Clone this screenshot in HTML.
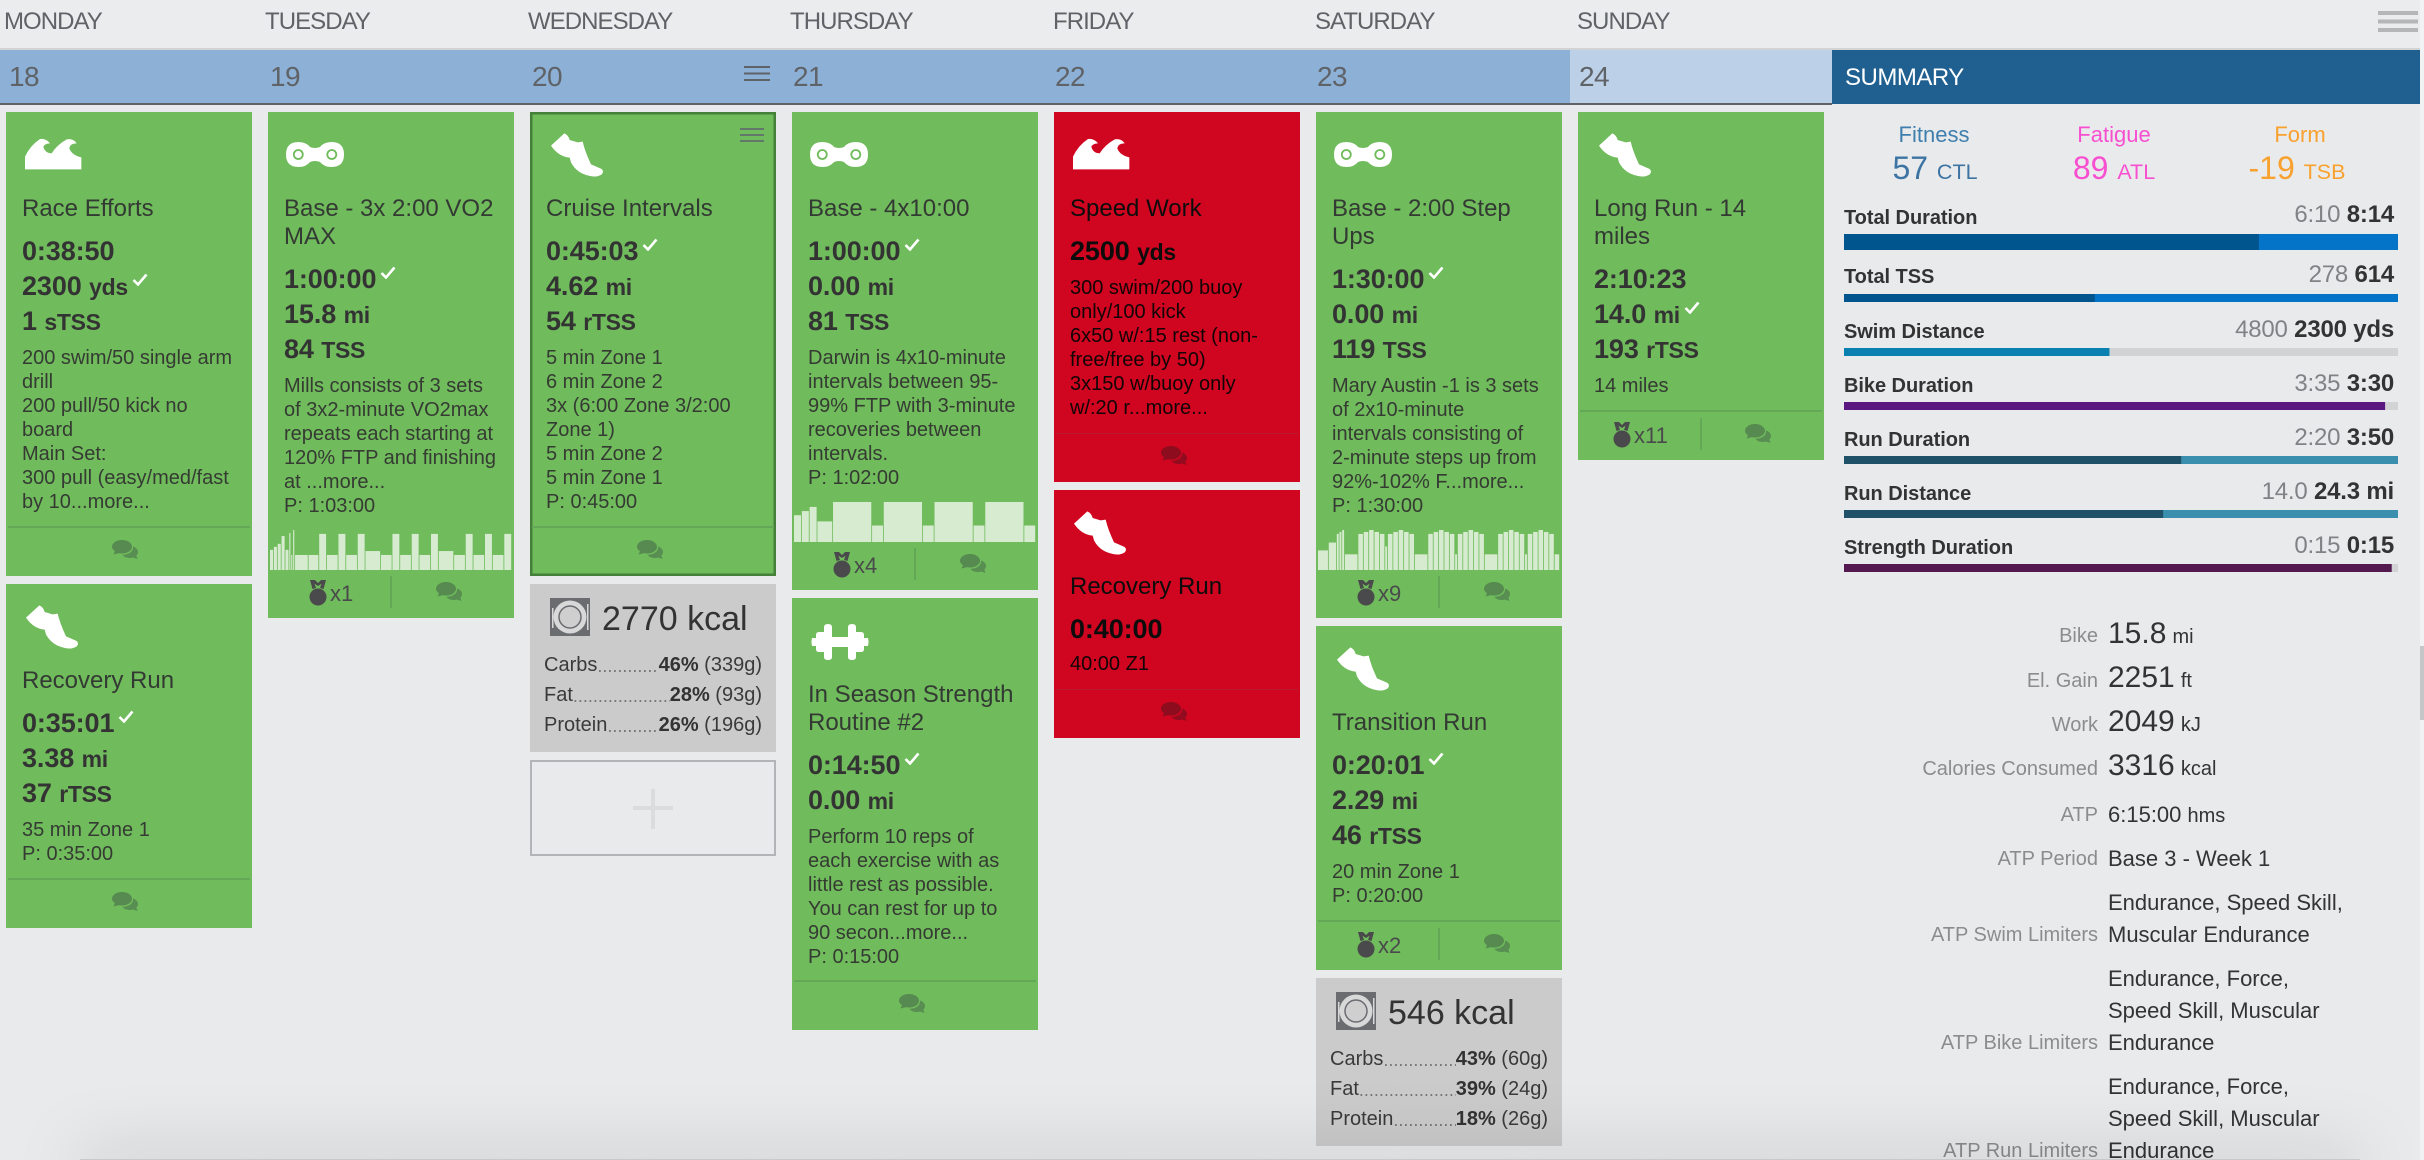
<!DOCTYPE html>
<html lang="en">
<head>
<meta charset="utf-8">
<title>Training Week Calendar</title>
<style>
html,body{margin:0;padding:0;width:2424px;height:1160px;overflow:hidden;background:#e9eaec;font-family:"Liberation Sans",Arial,sans-serif;color:#333}
#page{position:relative;width:2424px;height:1160px;overflow:hidden}
.abs{position:absolute}
.wk{position:absolute;top:7px;font-size:24px;line-height:30px;letter-spacing:-.95px;color:#5f6368;white-space:nowrap}
.dt{position:absolute;top:59px;font-size:28px;line-height:36px;letter-spacing:-.6px;color:#5f6368}
.card{position:absolute;width:246px;box-sizing:border-box;padding:83px 0 0 16px;overflow:hidden}
.green{background:#70bb5c;color:#333}
.red{background:#d0051f;color:#0c0c0c}
.sel{box-shadow:inset 0 0 0 2.5px #44803a}
.title{font-size:24px;line-height:28px;letter-spacing:0;white-space:nowrap;color:#333a33}
.red .title{color:#0c0c0c}
.mets{margin-top:11px}
.m{height:35px;line-height:35px;font-size:27px;font-weight:bold;white-space:nowrap;letter-spacing:-.1px}
.u{font-size:23px;letter-spacing:-.3px}
.ck{width:16px;height:13px;margin-left:4px;position:relative;top:-9px}
.desc{margin-top:7px;font-size:20px;line-height:24px;white-space:nowrap;letter-spacing:0;color:#353b33}
.red .desc{color:#120506}
.sep{position:absolute;left:2px;right:2px;bottom:48px;height:2px;background:#64a857}
.red .sep{background:#b91a2e;height:1px}
.ic{position:absolute;left:0;top:0}
.cm{position:absolute;bottom:16px;width:26px;height:20px;color:#568a50}
.red .cm{color:#8d0c1e}
.md{position:absolute;bottom:12px;width:18px;height:26px;color:#4a4a4c}
.mx{position:absolute;bottom:12px;font-size:22px;line-height:24px;color:#4a4a4c}
.dv{position:absolute;left:122px;bottom:10px;width:2px;height:32px;background:#64a857}
.mini{position:absolute;left:2px;bottom:48px}
.nut{position:absolute;width:246px;background:#cbcbcb}
.kc{position:absolute;font-size:34px;line-height:40px;color:#333;white-space:nowrap}
.nr{position:absolute;left:14px;width:218px;display:flex;font-size:20px;line-height:26px;white-space:nowrap;color:#3a3a3a}
.nr i{flex:1;overflow:hidden;font-style:normal;font-size:18px;color:#777;padding-top:1px;letter-spacing:0}
.nr b{color:#333}
.fh{position:absolute;font-size:22px;line-height:28px;text-align:center;width:200px}
.fv{position:absolute;font-size:32px;line-height:40px;text-align:center;width:240px;white-space:nowrap}
.fv span{font-size:21.500px}
.sl{position:absolute;left:1844px;font-size:20px;line-height:28px;font-weight:bold;color:#333;white-space:nowrap;letter-spacing:-.05px}
.sv{position:absolute;left:1900px;width:494px;text-align:right;font-size:24px;line-height:28px;color:#808285;white-space:nowrap;letter-spacing:-.2px}
.sv b{color:#333}
.dl{position:absolute;left:1700px;width:398px;text-align:right;font-size:20px;line-height:32px;color:#8a8c8e;white-space:nowrap}
.dn{position:absolute;left:2108px;font-size:22px;line-height:32px;color:#333;white-space:nowrap}
.big{font-size:30px}
.un{font-size:20px}
</style>
</head>
<body>
<svg width="0" height="0" style="position:absolute">
<defs>
<symbol id="wave" viewBox="0 0 360 180"><path fill="#fff" d="M45 133L45 95Q60 62 90 42Q108 40 120 55Q105 55 100 65Q105 85 125 85Q140 60 170 43Q190 40 200 55Q180 55 178 70Q185 90 214 97L214 133Z"/></symbol>
<symbol id="shoe" viewBox="0 0 360 180"><path fill="#fff" d="M48 62L88 25Q100 30 104 45L128 52L143 50Q150 80 168 118Q185 125 200 132Q208 140 200 148Q185 158 165 153Q125 145 108 112L104 98Q70 95 48 62Z"/></symbol>
<symbol id="chain" viewBox="0 0 58 25"><path fill="#fff" d="M12.5 0Q20 0 24 5Q29 7 34 5Q38 0 45.5 0Q58 0 58 12.500Q58 25 45.500 25Q38 25 34 20Q29 18 24 20Q20 25 12.500 25Q0 25 0 12.500Q0 0 12.500 0Z"/><circle cx="12.300" cy="12.500" r="4.500" fill="#fff" stroke="#70bb5c" stroke-width="1.800"/><circle cx="45.800" cy="12.500" r="4.500" fill="#fff" stroke="#70bb5c" stroke-width="1.800"/></symbol>
<symbol id="dumbbell" viewBox="0 0 58 36"><path fill="#fff" d="M13 3Q13 0 17 0Q21 0 21 3L21 13L37 13L37 3Q37 0 41 0Q45 0 45 3L45 8L50 8Q53 8 53 11L53 14L57 14Q58 18 57 22L53 22L53 25Q53 28 50 28L45 28L45 33Q45 36 41 36Q37 36 37 33L37 23L21 23L21 33Q21 36 17 36Q13 36 13 33L13 28L8 28Q5 28 5 25L5 22L1 22Q0 18 1 14L5 14L5 11Q5 8 8 8L13 8Z"/></symbol>
<symbol id="comment" viewBox="0 0 26 20"><path fill="currentColor" d="M10 0C15.500 0 20 3 20 6.800C20 10.600 15.500 13.500 10 13.500C9 13.500 8 13.400 7 13.100L1.500 14.500L3 11.200C1.200 10 0 8.500 0 6.800C0 3 4.500 0 10 0Z"/><path fill="currentColor" opacity=".92" d="M21 6.500C24 7.500 26 9.500 26 12C26 13.500 25.300 14.700 24.300 15.600L25.500 19L21 17.500C20 17.800 19 18 18 18C14.500 18 11.500 16.500 10.500 14.700C16.500 15 21.800 11.500 21 6.500Z"/></symbol>
<symbol id="medal" viewBox="0 0 18 26"><circle cx="9" cy="17" r="8.500" fill="currentColor"/><path fill="currentColor" d="M1 0L6 0L9 3L12 0L17 0L14.500 9L11 8L12.500 3.800L9 6L5.500 3.800L7 8L3.500 9Z"/></symbol>
<symbol id="plate" viewBox="0 0 40 38"><rect width="40" height="38" fill="#6a6c70"/><circle cx="20" cy="19" r="16.500" fill="#d8d8d8"/><circle cx="20" cy="19" r="11" fill="#cfcfcf" stroke="#6a6c70" stroke-width="1.500"/><rect x="2" y="10" width="1.500" height="20" fill="#d8d8d8"/><rect x="37" y="6" width="1.500" height="26" fill="#d8d8d8"/></symbol>
<symbol id="check" viewBox="0 0 16 13"><path d="M1.500 7L6 11.500L14.500 1.500" fill="none" stroke="#fff" stroke-width="2.600"/></symbol>
</defs>
</svg>

<div id="page">
  <div class="abs" style="left:0;top:0;width:2424px;height:48px;background:#ebecee"></div>
  <div class="abs" style="left:0;top:48px;width:2424px;height:2px;background:#d2d3d5"></div>
  <div class="wk" style="left:4px">MONDAY</div>
  <div class="wk" style="left:265px">TUESDAY</div>
  <div class="wk" style="left:528px">WEDNESDAY</div>
  <div class="wk" style="left:790px">THURSDAY</div>
  <div class="wk" style="left:1053px">FRIDAY</div>
  <div class="wk" style="left:1315px">SATURDAY</div>
  <div class="wk" style="left:1577px">SUNDAY</div>
  <div class="abs" style="left:2378px;top:11px;width:40px;height:21px;background:linear-gradient(#b5b6b8 0 4px,transparent 4px 8.500px,#b5b6b8 8.500px 12.500px,transparent 12.500px 17px,#b5b6b8 17px 21px)"></div>

  <div class="abs" style="left:0;top:50px;width:1570px;height:53px;background:#8cb0d6"></div>
  <div class="abs" style="left:1570px;top:50px;width:262px;height:53px;background:#bcd1e7"></div>
  <div class="abs" style="left:0;top:102.500px;width:1832px;height:2px;background:#5f6368"></div>
  <div class="dt" style="left:9px">18</div>
  <div class="dt" style="left:270px">19</div>
  <div class="dt" style="left:532px">20</div>
  <div class="dt" style="left:793px">21</div>
  <div class="dt" style="left:1055px">22</div>
  <div class="dt" style="left:1317px">23</div>
  <div class="dt" style="left:1579px">24</div>
  <div class="abs" style="left:744px;top:66px;width:26px;height:15px;background:linear-gradient(#5f6368 0 2px,transparent 2px 6.500px,#5f6368 6.500px 8.500px,transparent 8.500px 13px,#5f6368 13px 15px)"></div>

  <div class="abs" style="left:1832px;top:50px;width:588px;height:54px;background:#1f6090"></div>
  <div class="abs" style="left:1845px;top:63px;font-size:24px;line-height:30px;letter-spacing:-.5px;color:#fff">SUMMARY</div>

  <!-- MONDAY -->
  <div class="card green" style="left:6px;top:112px;height:464px">
    <svg class="ic" style="left:4px;top:13px" width="120" height="60"><use href="#wave"/></svg>
    <div class="title">Race Efforts</div>
    <div class="mets">
      <div class="m">0:38:50</div>
      <div class="m">2300 <span class="u">yds</span><svg class="ck"><use href="#check"/></svg></div>
      <div class="m">1 <span class="u">sTSS</span></div>
    </div>
    <div class="desc">200 swim/50 single arm<br>drill<br>200 pull/50 kick no<br>board<br>Main Set:<br>300 pull (easy/med/fast<br>by 10...more...</div>
    <div class="sep"></div>
    <svg class="cm" style="left:106px"><use href="#comment"/></svg>
  </div>
  <div class="card green" style="left:6px;top:584px;height:344px">
    <svg class="ic" style="left:4px;top:13px" width="120" height="60"><use href="#shoe"/></svg>
    <div class="title">Recovery Run</div>
    <div class="mets">
      <div class="m">0:35:01<svg class="ck"><use href="#check"/></svg></div>
      <div class="m">3.38 <span class="u">mi</span></div>
      <div class="m">37 <span class="u">rTSS</span></div>
    </div>
    <div class="desc">35 min Zone 1<br>P: 0:35:00</div>
    <div class="sep"></div>
    <svg class="cm" style="left:106px"><use href="#comment"/></svg>
  </div>

  <!-- TUESDAY -->
  <div class="card green" style="left:268px;top:112px;height:506px">
    <svg class="ic" style="left:17.700px;top:29.600px" width="58" height="25"><use href="#chain"/></svg>
    <div class="title">Base - 3x 2:00 VO2<br>MAX</div>
    <div class="mets">
      <div class="m">1:00:00<svg class="ck"><use href="#check"/></svg></div>
      <div class="m">15.8 <span class="u">mi</span></div>
      <div class="m">84 <span class="u">TSS</span></div>
    </div>
    <div class="desc">Mills consists of 3 sets<br>of 3x2-minute VO2max<br>repeats each starting at<br>120% FTP and finishing<br>at ...more...<br>P: 1:03:00</div>
    <svg id="chart-tue" class="mini" width="242" height="42"></svg>
    <svg class="md" style="left:41px"><use href="#medal"/></svg>
    <div class="mx" style="left:62px">x1</div>
    <div class="dv"></div>
    <svg class="cm" style="left:168px"><use href="#comment"/></svg>
  </div>

  <!-- WEDNESDAY -->
  <div class="card green sel" style="left:530px;top:112px;height:464px">
    <svg class="ic" style="left:5px;top:13px" width="120" height="60"><use href="#shoe"/></svg>
    <div class="abs" style="left:210px;top:16px;width:24px;height:14px;background:linear-gradient(#63786a 0 2px,transparent 2px 6px,#63786a 6px 8px,transparent 8px 12px,#63786a 12px 14px)"></div>
    <div class="title">Cruise Intervals</div>
    <div class="mets">
      <div class="m">0:45:03<svg class="ck"><use href="#check"/></svg></div>
      <div class="m">4.62 <span class="u">mi</span></div>
      <div class="m">54 <span class="u">rTSS</span></div>
    </div>
    <div class="desc">5 min Zone 1<br>6 min Zone 2<br>3x (6:00 Zone 3/2:00<br>Zone 1)<br>5 min Zone 2<br>5 min Zone 1<br>P: 0:45:00</div>
    <div class="sep"></div>
    <svg class="cm" style="left:107px"><use href="#comment"/></svg>
  </div>
  <div class="nut" style="left:530px;top:584px;height:168px">
    <svg class="abs" style="left:20px;top:14px" width="40" height="38"><use href="#plate"/></svg>
    <div class="kc" style="left:72px;top:15px">2770 kcal</div>
    <div class="nr" style="top:68px"><span>Carbs</span><i>.......................</i><span><b>46%</b> (339g)</span></div>
    <div class="nr" style="top:98px"><span>Fat</span><i>.......................</i><span><b>28%</b> (93g)</span></div>
    <div class="nr" style="top:128px"><span>Protein</span><i>.......................</i><span><b>26%</b> (196g)</span></div>
  </div>
  <div class="abs" style="left:530px;top:760px;width:246px;height:96px;box-sizing:border-box;border:2px solid #b4b4b8">
    <div class="abs" style="left:101px;top:44px;width:40px;height:4px;background:#dcdcde"></div>
    <div class="abs" style="left:119px;top:26.500px;width:4px;height:40px;background:#dcdcde"></div>
  </div>

  <!-- THURSDAY -->
  <div class="card green" style="left:792px;top:112px;height:478px">
    <svg class="ic" style="left:17.700px;top:29.600px" width="58" height="25"><use href="#chain"/></svg>
    <div class="title">Base - 4x10:00</div>
    <div class="mets">
      <div class="m">1:00:00<svg class="ck"><use href="#check"/></svg></div>
      <div class="m">0.00 <span class="u">mi</span></div>
      <div class="m">81 <span class="u">TSS</span></div>
    </div>
    <div class="desc">Darwin is 4x10-minute<br>intervals between 95-<br>99% FTP with 3-minute<br>recoveries between<br>intervals.<br>P: 1:02:00</div>
    <svg id="chart-thu" class="mini" width="242" height="42"></svg>
    <svg class="md" style="left:41px"><use href="#medal"/></svg>
    <div class="mx" style="left:62px">x4</div>
    <div class="dv"></div>
    <svg class="cm" style="left:168px"><use href="#comment"/></svg>
  </div>
  <div class="card green" style="left:792px;top:598px;height:432px">
    <svg class="ic" style="left:18.600px;top:26px" width="58" height="36"><use href="#dumbbell"/></svg>
    <div class="title">In Season Strength<br>Routine #2</div>
    <div class="mets">
      <div class="m">0:14:50<svg class="ck"><use href="#check"/></svg></div>
      <div class="m">0.00 <span class="u">mi</span></div>
    </div>
    <div class="desc">Perform 10 reps of<br>each exercise with as<br>little rest as possible.<br>You can rest for up to<br>90 secon...more...<br>P: 0:15:00</div>
    <div class="sep"></div>
    <svg class="cm" style="left:107px"><use href="#comment"/></svg>
  </div>

  <!-- FRIDAY -->
  <div class="card red" style="left:1054px;top:112px;height:370px">
    <svg class="ic" style="left:4px;top:13px" width="120" height="60"><use href="#wave"/></svg>
    <div class="title">Speed Work</div>
    <div class="mets">
      <div class="m">2500 <span class="u">yds</span></div>
    </div>
    <div class="desc">300 swim/200 buoy<br>only/100 kick<br>6x50 w/:15 rest (non-<br>free/free by 50)<br>3x150 w/buoy only<br>w/:20 r...more...</div>
    <div class="sep"></div>
    <svg class="cm" style="left:107px"><use href="#comment"/></svg>
  </div>
  <div class="card red" style="left:1054px;top:490px;height:248px">
    <svg class="ic" style="left:4px;top:13px" width="120" height="60"><use href="#shoe"/></svg>
    <div class="title">Recovery Run</div>
    <div class="mets">
      <div class="m">0:40:00</div>
    </div>
    <div class="desc" style="margin-top:5px">40:00 Z1</div>
    <div class="sep"></div>
    <svg class="cm" style="left:107px"><use href="#comment"/></svg>
  </div>

  <!-- SATURDAY -->
  <div class="card green" style="left:1316px;top:112px;height:506px">
    <svg class="ic" style="left:17.700px;top:29.600px" width="58" height="25"><use href="#chain"/></svg>
    <div class="title">Base - 2:00 Step<br>Ups</div>
    <div class="mets">
      <div class="m">1:30:00<svg class="ck"><use href="#check"/></svg></div>
      <div class="m">0.00 <span class="u">mi</span></div>
      <div class="m">119 <span class="u">TSS</span></div>
    </div>
    <div class="desc">Mary Austin -1 is 3 sets<br>of 2x10-minute<br>intervals consisting of<br>2-minute steps up from<br>92%-102% F...more...<br>P: 1:30:00</div>
    <svg id="chart-sat" class="mini" width="242" height="42"></svg>
    <svg class="md" style="left:41px"><use href="#medal"/></svg>
    <div class="mx" style="left:62px">x9</div>
    <div class="dv"></div>
    <svg class="cm" style="left:168px"><use href="#comment"/></svg>
  </div>
  <div class="card green" style="left:1316px;top:626px;height:344px">
    <svg class="ic" style="left:5px;top:13px" width="120" height="60"><use href="#shoe"/></svg>
    <div class="title">Transition Run</div>
    <div class="mets">
      <div class="m">0:20:01<svg class="ck"><use href="#check"/></svg></div>
      <div class="m">2.29 <span class="u">mi</span></div>
      <div class="m">46 <span class="u">rTSS</span></div>
    </div>
    <div class="desc">20 min Zone 1<br>P: 0:20:00</div>
    <div class="sep"></div>
    <svg class="md" style="left:41px"><use href="#medal"/></svg>
    <div class="mx" style="left:62px">x2</div>
    <div class="dv"></div>
    <svg class="cm" style="left:168px"><use href="#comment"/></svg>
  </div>
  <div class="nut" style="left:1316px;top:978px;height:168px">
    <svg class="abs" style="left:20px;top:14px" width="40" height="38"><use href="#plate"/></svg>
    <div class="kc" style="left:72px;top:15px">546 kcal</div>
    <div class="nr" style="top:68px"><span>Carbs</span><i>.......................</i><span><b>43%</b> (60g)</span></div>
    <div class="nr" style="top:98px"><span>Fat</span><i>.......................</i><span><b>39%</b> (24g)</span></div>
    <div class="nr" style="top:128px"><span>Protein</span><i>.......................</i><span><b>18%</b> (26g)</span></div>
  </div>

  <!-- SUNDAY -->
  <div class="card green" style="left:1578px;top:112px;height:348px">
    <svg class="ic" style="left:5px;top:13px" width="120" height="60"><use href="#shoe"/></svg>
    <div class="title">Long Run - 14<br>miles</div>
    <div class="mets">
      <div class="m">2:10:23</div>
      <div class="m">14.0 <span class="u">mi</span><svg class="ck"><use href="#check"/></svg></div>
      <div class="m">193 <span class="u">rTSS</span></div>
    </div>
    <div class="desc">14 miles</div>
    <div class="sep"></div>
    <svg class="md" style="left:35px"><use href="#medal"/></svg>
    <div class="mx" style="left:56px">x11</div>
    <div class="dv"></div>
    <svg class="cm" style="left:167px"><use href="#comment"/></svg>
  </div>

  <!-- SUMMARY -->
  <div class="fh" style="left:1834px;top:121px;color:#3f7fae">Fitness</div>
  <div class="fv" style="left:1815px;top:148px;color:#3d74a3">57 <span>CTL</span></div>
  <div class="fh" style="left:2014px;top:121px;color:#f84fd0">Fatigue</div>
  <div class="fv" style="left:1994px;top:148px;color:#f84fd0">89 <span>ATL</span></div>
  <div class="fh" style="left:2200px;top:121px;color:#f9a12e">Form</div>
  <div class="fv" style="left:2177px;top:148px;color:#f9a12e">-19 <span>TSB</span></div>

  <div class="sl" style="top:204px">Total Duration</div>
  <div class="sv" style="top:201px">6:10 <b>8:14</b></div>
  <div class="sl" style="top:263px">Total TSS</div>
  <div class="sv" style="top:261px">278 <b>614</b></div>
  <div class="sl" style="top:318px">Swim Distance</div>
  <div class="sv" style="top:316px">4800 <b>2300 yds</b></div>
  <div class="sl" style="top:372px">Bike Duration</div>
  <div class="sv" style="top:370px">3:35 <b>3:30</b></div>
  <div class="sl" style="top:426px">Run Duration</div>
  <div class="sv" style="top:424px">2:20 <b>3:50</b></div>
  <div class="sl" style="top:480px">Run Distance</div>
  <div class="sv" style="top:478px">14.0 <b>24.3 mi</b></div>
  <div class="sl" style="top:534px">Strength Duration</div>
  <div class="sv" style="top:532px">0:15 <b>0:15</b></div>
  <svg id="summary-bars" class="abs" style="left:1844px;top:230px" width="554" height="346"></svg>

  <div class="dl" style="top:620px">Bike</div>
  <div class="dn" style="top:618px"><span class="big">15.8</span> <span class="un">mi</span></div>
  <div class="dl" style="top:665px">El. Gain</div>
  <div class="dn" style="top:662px"><span class="big">2251</span> <span class="un">ft</span></div>
  <div class="dl" style="top:709px">Work</div>
  <div class="dn" style="top:706px"><span class="big">2049</span> <span class="un">kJ</span></div>
  <div class="dl" style="top:753px">Calories Consumed</div>
  <div class="dn" style="top:750px"><span class="big">3316</span> <span class="un">kcal</span></div>
  <div class="dl" style="top:799px">ATP</div>
  <div class="dn" style="top:799px">6:15:00 <span class="un">hms</span></div>
  <div class="dl" style="top:843px">ATP Period</div>
  <div class="dn" style="top:843px">Base 3 - Week 1</div>
  <div class="dl" style="top:919px">ATP Swim Limiters</div>
  <div class="dn" style="top:887px">Endurance, Speed Skill,<br>Muscular Endurance</div>
  <div class="dl" style="top:1027px">ATP Bike Limiters</div>
  <div class="dn" style="top:963px">Endurance, Force,<br>Speed Skill, Muscular<br>Endurance</div>
  <div class="dl" style="top:1135px">ATP Run Limiters</div>
  <div class="dn" style="top:1071px">Endurance, Force,<br>Speed Skill, Muscular<br>Endurance</div>

  <div class="abs" style="left:2420px;top:0;width:4px;height:1160px;background:#f1f2f3"></div>
  <div class="abs" style="left:2420px;top:646px;width:4px;height:74px;background:#c5c6c8"></div>
  <div class="abs" style="left:80px;top:1159px;width:2280px;height:20px;background:#c9c9cb;box-shadow:0 0 70px rgba(0,0,0,.26)"></div>
</div>

<script>
// Tuesday workout steps (seconds, % FTP)
const tueSeconds = [60,60,60,60,60,30,30,30,210,165,120,180,120,180,120,240,180,120,180,120,180,120,240,180,120,180,120,180,120];
const tueIntensity = [67,77,87,113,67,123,50,133,50,50,120,50,120,50,120,63,50,120,50,120,50,120,63,50,120,50,120,50,120];
// Thursday workout steps
const thuSeconds = [120,120,120,240,600,180,600,180,600,180,600,180];
const thuIntensity = [65,75,85,50,97,40,97,40,97,40,97,40];
// Saturday workout steps
const satSeconds = [240,180,60,60,60,300,120,120,120,120,120,60,120,120,120,120,120,300,120,120,120,120,120,60,120,120,120,120,120,300,120,120,120,120,120,60,120,120,120,120,120,120];
const satIntensity = [50,70,92,97,102,40,92,97,102,97,92,60,92,97,102,97,92,40,92,97,102,97,92,40,92,97,102,97,92,40,92,97,102,97,92,40,92,97,102,97,92,40];
// Summary bars: planned and completed, in each row's own unit
const plannedValues = [370,278,4800,215,140,14.0,15];
const completedValues = [494,614,2300,210,230,24.3,14.83];

const SVG_NS = 'http://www.w3.org/2000/svg';

function drawWorkout(id, seconds, intensity) {
  const svg = document.getElementById(id);
  const chartWidth = 242;
  const chartHeight = 40;
  const base = 42;
  const total = seconds.reduce(function (a, b) { return a + b; }, 0);
  const peak = Math.max.apply(null, intensity);
  const xScale = function (t) { return t / total * chartWidth; };
  const yScale = function (p) { return p / peak * chartHeight; };
  let elapsed = 0;
  seconds.forEach(function (duration, i) {
    const bar = document.createElementNS(SVG_NS, 'rect');
    
    
    bar.setAttribute('x', xScale(elapsed));
    bar.setAttribute('width', Math.max(xScale(duration) - 0.8, 0.5));
    bar.setAttribute('y', base - yScale(intensity[i]));
    bar.setAttribute('height', yScale(intensity[i]));
    bar.setAttribute('fill', '#d6ebcf');
    svg.appendChild(bar);
    elapsed += duration;
  });
}
drawWorkout('chart-tue', tueSeconds, tueIntensity);
drawWorkout('chart-thu', thuSeconds, thuIntensity);
drawWorkout('chart-sat', satSeconds, satIntensity);

const barDark = ['#00558f','#00558f','#0a80b0','#5a1880','#1f5268','#1f5268','#541a50'];
const barOver = ['#0474c9','#0474c9','#d2d3d5','#d2d3d5','#3a8eae','#3a8eae','#d2d3d5'];

function drawSummaryBars() {
  const svg = document.getElementById('summary-bars');
  const fullWidth = 554;
  const topOf = function (i) { return i === 0 ? 4 : 10 + 54 * i; };
  const heightOf = function (i) { return i === 0 ? 16 : 8; };
  plannedValues.forEach(function (planned, i) {
    const completed = completedValues[i];
    const ratio = Math.min(planned, completed) / Math.max(planned, completed);
    const rest = document.createElementNS(SVG_NS, 'rect');
    
    
    rest.setAttribute('x', 0);
    rest.setAttribute('y', topOf(i));
    rest.setAttribute('width', fullWidth);
    rest.setAttribute('height', heightOf(i));
    rest.setAttribute('fill', barOver[i]);
    svg.appendChild(rest);
    const fill = document.createElementNS(SVG_NS, 'rect');
    
    
    fill.setAttribute('x', 0);
    fill.setAttribute('y', topOf(i));
    fill.setAttribute('width', ratio * fullWidth);
    fill.setAttribute('height', heightOf(i));
    fill.setAttribute('fill', barDark[i]);
    svg.appendChild(fill);
  });
}
drawSummaryBars();
</script>
</body>
</html>
